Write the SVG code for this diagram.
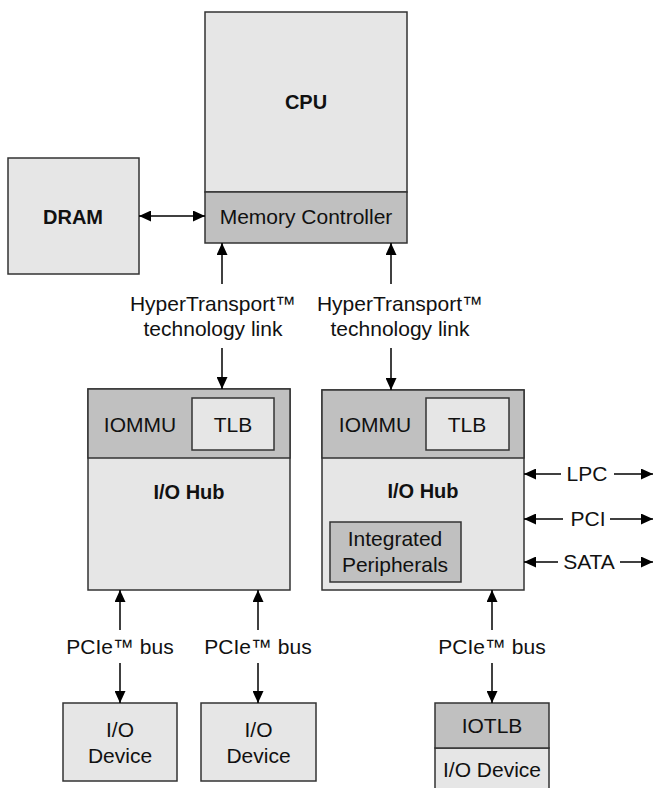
<svg xmlns="http://www.w3.org/2000/svg" width="654" height="788" viewBox="0 0 654 788">
<defs>
<marker id="ah" viewBox="0 0 12 11" refX="12" refY="5.5" markerWidth="12" markerHeight="11" markerUnits="userSpaceOnUse" orient="auto-start-reverse">
<path d="M0,0 L12,5.5 L0,11 Z" fill="#000"/>
</marker>
<style>
.lt{fill:#e6e6e6;stroke:#333;stroke-width:1.5}
.dk{fill:#c0c0c0;stroke:#333;stroke-width:1.5}
.t{font-family:"Liberation Sans",Arial,sans-serif;font-size:21px;fill:#111;text-anchor:middle}
.b{font-family:"Liberation Sans",Arial,sans-serif;font-size:20px;font-weight:bold;fill:#111;text-anchor:middle}
.c{stroke:#000;stroke-width:1.5;fill:none;marker-end:url(#ah)}
.c2{stroke:#000;stroke-width:1.5;fill:none;marker-start:url(#ah);marker-end:url(#ah)}
</style>
</defs>
<rect width="654" height="788" fill="#fff"/>

<g id="cpu">
<rect class="lt" x="205" y="12" width="202" height="180"/>
<text class="b" x="306" y="109">CPU</text>
</g>
<g id="memory-controller">
<rect class="dk" x="205" y="192" width="202" height="51"/>
<text class="t" x="306" y="224">Memory Controller</text>
</g>
<g id="dram">
<rect class="lt" x="8" y="158" width="131" height="116"/>
<text class="b" x="73" y="224">DRAM</text>
</g>

<g id="hub-left">
<rect class="lt" x="88" y="389" width="202" height="201"/>
<rect class="dk" x="88" y="389" width="202" height="69"/>
<text class="t" x="140" y="432">IOMMU</text>
<rect class="lt" x="192" y="398" width="82" height="52"/>
<text class="t" x="233" y="432">TLB</text>
<text class="b" x="189" y="499">I/O Hub</text>
</g>

<g id="hub-right">
<rect class="lt" x="322" y="390" width="202" height="200"/>
<rect class="dk" x="322" y="390" width="202" height="68"/>
<text class="t" x="375" y="432">IOMMU</text>
<rect class="lt" x="426" y="398" width="83" height="52"/>
<text class="t" x="467" y="432">TLB</text>
<text class="b" x="423" y="498">I/O Hub</text>
</g>
<g id="integrated-peripherals">
<rect class="dk" x="330" y="522" width="131" height="60"/>
<text class="t" x="395" y="546">Integrated</text>
<text class="t" x="395" y="572">Peripherals</text>
</g>

<g id="io-device-1">
<rect class="lt" x="63" y="703" width="114" height="78"/>
<text class="t" x="120" y="737">I/O</text>
<text class="t" x="120" y="763">Device</text>
</g>
<g id="io-device-2">
<rect class="lt" x="201" y="703" width="115" height="78"/>
<text class="t" x="258.5" y="737">I/O</text>
<text class="t" x="258.5" y="763">Device</text>
</g>
<g id="io-device-3">
<rect class="lt" x="435" y="748" width="114" height="50"/>
<rect class="dk" x="435" y="703" width="114" height="45"/>
<text class="t" x="492" y="733">IOTLB</text>
<text class="t" x="492" y="777">I/O Device</text>
</g>

<g id="connectors">
<line class="c2" x1="139" y1="216" x2="205" y2="216"/>
<line class="c" x1="222" y1="284" x2="222" y2="243"/>
<line class="c" x1="222" y1="348" x2="222" y2="389"/>
<line class="c" x1="391" y1="284" x2="391" y2="243"/>
<line class="c" x1="391" y1="348" x2="391" y2="390"/>
<line class="c" x1="120" y1="630" x2="120" y2="590"/>
<line class="c" x1="120" y1="663" x2="120" y2="703"/>
<line class="c" x1="258" y1="630" x2="258" y2="590"/>
<line class="c" x1="258" y1="663" x2="258" y2="703"/>
<line class="c" x1="492" y1="630" x2="492" y2="590"/>
<line class="c" x1="492" y1="663" x2="492" y2="703"/>
<line class="c" x1="561" y1="474" x2="524" y2="474"/>
<line class="c" x1="614" y1="474" x2="653" y2="474"/>
<line class="c" x1="563" y1="519" x2="524" y2="519"/>
<line class="c" x1="610" y1="519" x2="653" y2="519"/>
<line class="c" x1="558" y1="562" x2="524" y2="562"/>
<line class="c" x1="620" y1="562" x2="653" y2="562"/>
</g>

<g id="labels">
<text class="t" x="213" y="311">HyperTransport™</text>
<text class="t" x="213" y="336">technology link</text>
<text class="t" x="400" y="311">HyperTransport™</text>
<text class="t" x="400" y="336">technology link</text>
<text class="t" x="120" y="654">PCIe™ bus</text>
<text class="t" x="258" y="654">PCIe™ bus</text>
<text class="t" x="492" y="654">PCIe™ bus</text>
<text class="t" x="587" y="481">LPC</text>
<text class="t" x="588" y="526">PCI</text>
<text class="t" x="589" y="569">SATA</text>
</g>
</svg>
